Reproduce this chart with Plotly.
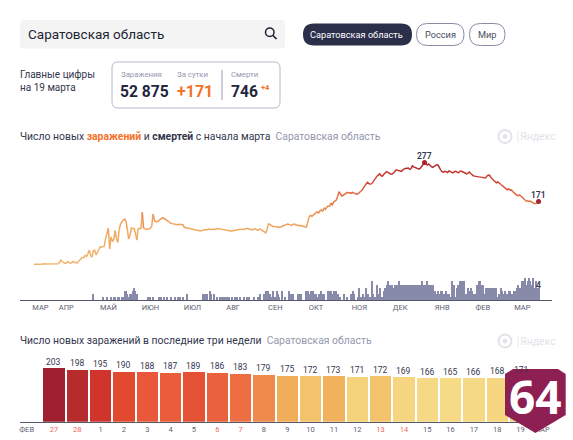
import pandas as pd
import plotly.graph_objects as go
from plotly.colors import sample_colorscale

W, H = 573, 440
FONT = "Roboto"

# ---------- data ----------
START_DATE = "2020-03-12"
older_cases = [
    0,1,1,1,0,1,1,1,2,1,1,1,1,2,1,2,1,2,2,
    5,12,8,5,3,4,8,6,3,5,8,5,6,4,7,
    12,16,20,18,26,22,30,39,24,20,38,39,26,32,40,
    48,47,48,50,70,85,99,42,75,62,68,
    92,70,60,95,110,116,121,123,118,95,
    69,80,99,98,98,85,66,98,98,98,
    142,98,96,96,96,96,98,104,137,120,
    115,116,118,122,125,127,125,122,120,118,
    114,112,111,110,108,107,108,109,109,110,
    108,101,100,99,98,97,97,96,95,94,
    93,92,90,91,92,94,95,94,96,96,
    95,94,95,96,95,97,98,97,96,95,
    96,95,94,93,92,91,91,92,94,93,
    94,95,95,96,96,95,97,98,97,96,
    95,94,96,97,95,93,95,96,93,90,
    88,86,95,111,108,106,104,103,102,101,
    100,101,102,104,105,107,109,110,109,107,
    106,109,110,108,106,107,105,106,104,103,
    102,102,115,130,133,131,135,138,141,143,
    140,146,148,145,153,150,156,159,157,167,
    162,170,172,175,185,198,192,186,188,190,
    193,196,194,195,193,196,194,192,191,192,
    195,199,202,208,215,219,223,220,218,219,
    224,230,236,240,243,246,241,240,245,250,
    252,250,247,246,245,248,252,257,256,254,
    255,253,257,260,261,263,262,258,260,268,
    265,263,261,260,259,262,268,274,277,274,
    270,273,268,266,264,266,268,271,270,262,
    256,252,251,253,252,250,254,252,250,249,
    252,253,251,249,253,254,252,250,248,246,
    248,251,247,243,241,240,239,240,238,237,
    236,237,235,235,240,243,242,236,231,228,
    225,222,224,221,218,216,212,209,206,203,205,202,
]
recent_cases = [203,198,195,190,188,187,189,186,183,179,175,172,173,171,172,169,166,165,166,168,171]
daily_deaths = [
    0,0,0,0,0,0,0,0,0,0,0,0,0,0,0,0,0,0,0,0,0,0,0,0,0,0,0,0,0,0,0,0,0,0,0,0,0,0,0,0,0,0,0,0,
    2,0,0,0,0,0,0,
    1,0,0,1,0,0,1,0,1,1,0,1,1,0,1,1,
    3,3,2,1,2,2,3,4,3,2,
    0,0,0,0,0,0,0,1,0,1,0,1,0,0,0,1,0,1,0,1,0,1,0,
    0,1,0,0,1,0,1,0,1,0,1,0,0,2,0,0,0,0,0,0,
    0,0,0,0,0,2,2,2,2,0,3,2,0,2,0,1,0,1,1,1,
    1,1,1,1,1,0,1,0,1,0,1,0,1,0,0,1,0,1,0,1,0,0,1,0,0,1,0,2,0,0,
    2,3,2,3,2,1,3,1,1,3,2,1,0,3,0,1,0,0,3,
    2,2,2,0,0,0,2,2,2,0,0,
    0,3,3,2,3,3,3,2,2,1,2,2,3,2,2,0,0,3,3,3,
    2,3,3,3,2,1,1,0,0,2,0,1,0,0,2,3,2,0,0,1,
    4,1,1,2,1,4,2,1,1,6,2,1,1,5,2,4,1,1,3,4,
    5,6,5,5,5,4,5,5,5,6,5,5,5,5,5,4,5,5,4,5,
    5,5,5,5,5,5,6,5,5,5,6,5,5,5,5,3,3,2,3,2,
    3,3,2,2,3,2,2,1,6,2,5,1,4,5,6,6,6,6,2,2,
    4,3,4,3,2,2,1,5,6,6,5,5,2,4,4,4,4,4,4,4,
    3,4,1,2,4,3,2,3,1,2,3,3,2,2,3,3,
    4,5,4,4,6,6,7,5,6,7,6,5,7,4,6,4,4,
]
month_labels = ["МАР","АПР","МАЙ","ИЮН","ИЮЛ","АВГ","СЕН","ОКТ","НОЯ","ДЕК","ЯНВ","ФЕВ","МАР"]
month_label_dates = ["2020-03-17","2020-04-05","2020-05-06","2020-06-06","2020-07-07","2020-08-06",
                     "2020-09-06","2020-10-06","2020-11-07","2020-12-07","2021-01-07","2021-02-06","2021-03-07"]
day_labels = ["ФЕВ","27","28","1","2","3","4","5","6","7","8","9","10","11","12","13","14","15","16","17","18","19","МАР"]
weekend_labels = ["27","28","6","7","13","14"]

total_cases = "52 875"
delta_cases = "+171"
total_deaths = "746"
delta_deaths = "+4"

# ---------- derived ----------
cases = older_cases + recent_cases
dates = pd.date_range(START_DATE, periods=len(cases))
deaths = (daily_deaths + [0] * len(cases))[:len(cases)]

def px(x): return x / W
def py(y): return 1 - y / H

DARK = "#2b2f4a"
GREY = "#9497ad"
ORANGE = "#f4712b"
WM = "#e2e3e9"
LABEL = dict(family=FONT, size=8.5, color="#33364d", weight=600)

line_scale = [[0.0,"#f0b670"],[0.36,"#efa75e"],[0.54,"#ea8a4e"],[0.7,"#e2623f"],[0.86,"#cf3d31"],[1.0,"#a8242d"]]
bar_scale = [[0.0,"#f6da86"],[0.16,"#f5d27c"],[0.18,"#f4c670"],[0.2,"#f1b35f"],[0.27,"#f0ac5a"],[0.37,"#ee8a4c"],
             [0.47,"#ec6f42"],[0.6,"#e9593a"],[0.66,"#e2492f"],[0.79,"#d1342a"],[0.87,"#b52b2c"],[1.0,"#a01f2e"]]

fig = go.Figure()

# line, split in runs of one colour band
BANDS = 14
vmax = max(cases)
band = [min(BANDS - 1, int(v / (vmax + 1) * BANDS)) for v in cases]
i = 0
while i < len(cases) - 1:
    j = i + 1
    while j < len(cases) - 1 and band[j] == band[i]:
        j += 1
    col = sample_colorscale(line_scale, (band[i] + 0.5) / BANDS)[0]
    fig.add_trace(go.Scatter(x=dates[i:j + 1], y=cases[i:j + 1], mode="lines",
                             line=dict(color=col, width=1.5), xaxis="x", yaxis="y",
                             hoverinfo="skip", showlegend=False))
    i = j

# labelled points
peak = cases.index(vmax)
fig.add_trace(go.Scatter(x=[dates[peak], dates[-1]], y=[cases[peak], cases[-1]], mode="markers",
                         marker=dict(color="#a8242d", size=5), xaxis="x", yaxis="y",
                         hoverinfo="skip", showlegend=False, cliponaxis=False))
for k in (peak, len(cases) - 1):
    fig.add_annotation(x=dates[k], y=cases[k], xref="x", yref="y", text=str(cases[k]), showarrow=False,
                       yanchor="middle", yshift=7, font=LABEL)

# deaths
fig.add_trace(go.Bar(x=dates, y=deaths, marker=dict(color="#878ba9", line_width=0), width=86400000 * 0.72,
                     xaxis="x", yaxis="y2", hoverinfo="skip", showlegend=False))
fig.add_annotation(x=dates[-1], y=deaths[-1], xref="x", yref="y2", text=str(deaths[-1]), showarrow=False,
                   yanchor="middle", yshift=3, xshift=0, font=LABEL)

# last three weeks
idx = list(range(len(recent_cases)))
fig.add_trace(go.Bar(x=idx, y=recent_cases, width=0.915,
                     marker=dict(color=recent_cases, colorscale=bar_scale, cmin=min(recent_cases),
                                 cmax=max(recent_cases), line_width=0),
                     xaxis="x3", yaxis="y3", cliponaxis=False, hoverinfo="skip", showlegend=False))
for k, v in zip(idx, recent_cases):
    fig.add_annotation(x=k, y=v, xref="x3", yref="y3", text=str(v), showarrow=False, yanchor="middle", yshift=6.3,
                       font=dict(family=FONT, size=8.5, color="#33364d"))

tick_pos = [-1.17] + idx + [20.9]
tick_txt = [f'<span style="color:#f0665a">{t}</span>' if t in weekend_labels else t for t in day_labels]

fig.update_layout(
    width=W, height=H, margin=dict(l=0, r=0, t=0, b=0), paper_bgcolor="white", plot_bgcolor="white",
    font=dict(family=FONT, color="#33364d"), barmode="overlay", bargap=0,
    xaxis=dict(domain=[px(20), px(552)], range=["2020-03-01 22:00", "2021-03-28 22:00"], type="date", anchor="y",
               tickmode="array", tickvals=month_label_dates, ticktext=month_labels, ticks="", showgrid=False,
               showline=True, linecolor="#55586a", linewidth=1, tickfont=dict(family=FONT, size=7.5, color="#5d6070"),
               zeroline=False),
    yaxis=dict(domain=[py(300), py(150)], range=[-96.5, 311], visible=False, anchor="x"),
    yaxis2=dict(domain=[py(300), py(150)], range=[0, 48.4], visible=False, anchor="x", overlaying="y"),
    xaxis3=dict(domain=[px(20), px(552)], range=[-1.457, 21.35], anchor="y3", tickmode="array", tickvals=tick_pos,
                ticktext=tick_txt, ticks="", showgrid=False, showline=True, linecolor="#55586a", linewidth=1,
                tickfont=dict(family=FONT, size=7.5, color="#5d6070"), zeroline=False),
    yaxis3=dict(domain=[py(421.7), py(360)], range=[0, 234.6], visible=False, anchor="x3"),
)

# ---------- page furniture ----------
def rrect(x0, y0, x1, y1, r):
    a, b, c, d = px(x0), px(x1), py(y0), py(y1)
    rx, ry = r / W, r / H
    return (f"M {a+rx},{c} L {b-rx},{c} Q {b},{c} {b},{c-ry} L {b},{d+ry} Q {b},{d} {b-rx},{d} "
            f"L {a+rx},{d} Q {a},{d} {a},{d+ry} L {a},{c-ry} Q {a},{c} {a+rx},{c} Z")

shapes = []
def add_box(x0, y0, x1, y1, r, fill, line=None, w=1):
    shapes.append(dict(type="path", path=rrect(x0, y0, x1, y1, r), xref="paper", yref="paper",
                       fillcolor=fill, line=dict(color=line or "rgba(0,0,0,0)", width=w if line else 0), layer="below"))

add_box(20, 20, 285, 48.5, 4, "#f4f4f5")
add_box(303, 23.5, 412, 45.5, 11, DARK)
add_box(416.5, 23.5, 464, 45.5, 11, "white", "#8a8ca3", 1)
add_box(469.5, 23.5, 505, 45.5, 11, "white", "#8a8ca3", 1)
add_box(112, 62, 280, 108, 6, "white", "#b4b8cc", 1)
shapes.append(dict(type="line", xref="paper", yref="paper", x0=px(222), x1=px(222), y0=py(70), y1=py(100),
                   line=dict(color="#9a9db0", width=1)))
# magnifier
shapes.append(dict(type="circle", xref="paper", yref="paper", x0=px(265.5), x1=px(274), y0=py(28), y1=py(36.5),
                   line=dict(color="#1f2133", width=1.5)))
shapes.append(dict(type="line", xref="paper", yref="paper", x0=px(273), x1=px(276.5), y0=py(35.5), y1=py(39),
                   line=dict(color="#1f2133", width=1.7)))
# watermark rings
for cy in (136.5, 341):
    shapes.append(dict(type="circle", xref="paper", yref="paper", x0=px(498.5), x1=px(511.5), y0=py(cy - 6.5), y1=py(cy + 6.5),
                       line=dict(color=WM, width=2)))
    shapes.append(dict(type="circle", xref="paper", yref="paper", x0=px(503), x1=px(507), y0=py(cy - 2), y1=py(cy + 2),
                       line=dict(color=WM, width=1), fillcolor=WM))
    shapes.append(dict(type="line", xref="paper", yref="paper", x0=px(518), x1=px(518), y0=py(cy - 6), y1=py(cy + 6),
                       line=dict(color=WM, width=0.8)))
# badge
bx = [505, 513, 558, 565.7, 565.7, 535.4, 505]
by = [374, 369, 369, 374, 415, 433, 415]
path = "M " + " L ".join(f"{px(a)},{py(b)}" for a, b in zip(bx, by)) + " Z"
shapes.append(dict(type="path", path=path, xref="paper", yref="paper", fillcolor="#8e1f52", line_width=0, layer="above"))
fig.update_layout(shapes=shapes)

def note(x, y, text, size, color="#33364d", anchor="left", **font_kw):
    fig.add_annotation(x=px(x - 1 if anchor == "left" else x), y=py(y), xref="paper", yref="paper", text=text,
                       showarrow=False, xanchor=anchor, yanchor="middle", borderpad=0, align="left",
                       font=dict(family=font_kw.pop("family", FONT), size=size, color=color, **font_kw))

note(28, 33.5, "Саратовская область", 13.5, "#222433")
note(356.5, 34.5, "Саратовская область", 9.2, "white", "center")
note(440, 34.5, "Россия", 9.2, "#4a4c60", "center")
note(487, 34.5, "Мир", 9.2, "#4a4c60", "center")
note(20, 74, "Главные цифры", 10, "#33364d")
note(20, 87, "на 19 марта", 10, "#33364d")
note(121, 75, "Заражения", 7.8, GREY)
note(177, 75, "За сутки", 7.8, GREY)
note(231, 75, "Смерти", 7.8, GREY)
note(120, 91.5, total_cases, 15.6, "#23263c", weight=700)
note(177, 91.5, delta_cases, 16, ORANGE, weight=700)
note(231, 91.5, total_deaths, 15.6, "#23263c", weight=700)
note(261, 87.5, delta_deaths, 7.5, ORANGE, weight=700)
note(20, 136, f'Число новых <b style="color:{ORANGE}">заражений</b> и <b>смертей</b> с начала марта  '
              f'<span style="color:{GREY}">Саратовская область</span>', 10.4, "#33364d")
note(20, 340.5, f'Число новых заражений в последние три недели  <span style="color:{GREY}">Саратовская область</span>',
     10.4, "#33364d")
for cy in (136.5, 341):
    note(520, cy, "Яндекс", 10.5, WM)
note(535.5, 396, "64", 46, "white", "center", family="Open Sans", weight=700)

fig.write_html("out.html", post_script="document.body.style.margin='0';document.body.style.overflow='hidden';",
               config={"displayModeBar": False})
